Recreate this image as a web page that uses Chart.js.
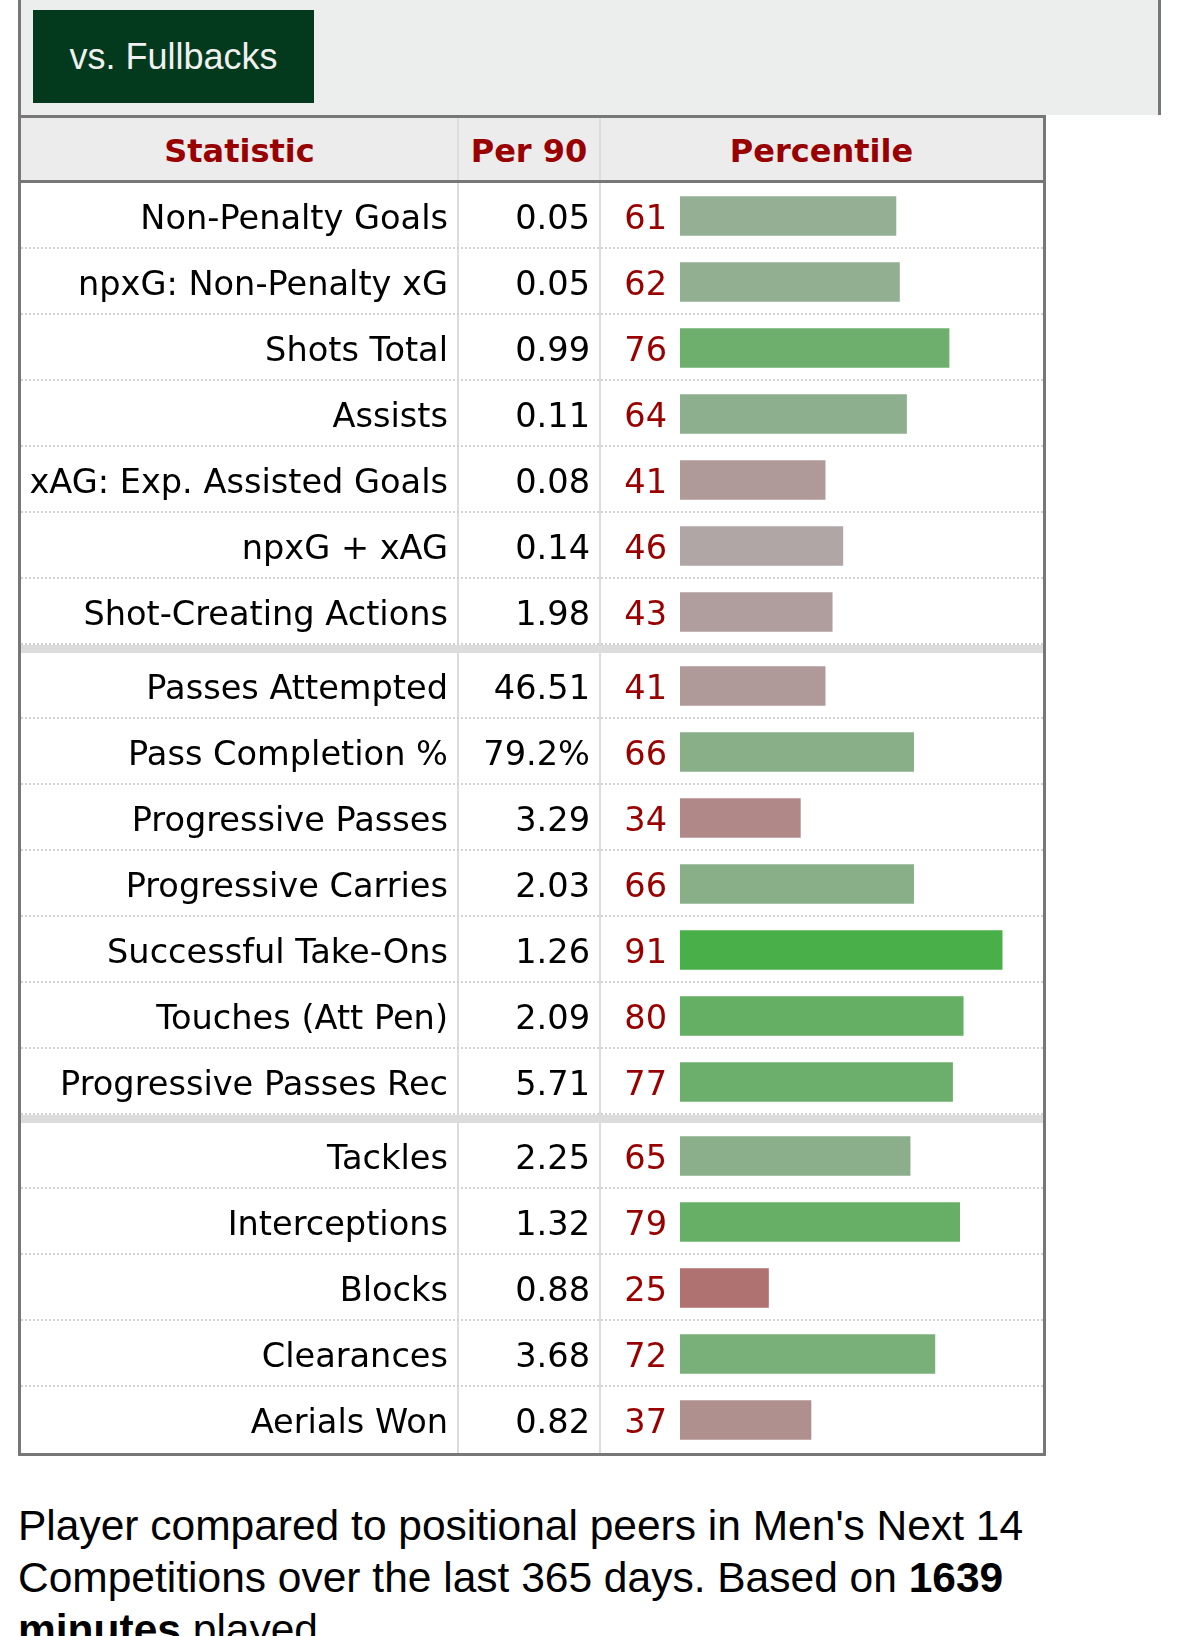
<!DOCTYPE html>
<html>
<head>
<meta charset="utf-8">
<script src="https://cdn.jsdelivr.net/npm/chart.js@4/dist/chart.umd.min.js"></script>
<style>
  html, body { margin: 0; padding: 0; background: #fff; width: 1179px; height: 1636px; overflow: hidden; }
  #panel { position: absolute; left: 18px; top: 0; width: 1143px; height: 115px; box-sizing: border-box;
           background: #eceeed; border-left: 3px solid #777; border-right: 3px solid #777; }
  #btn { position: absolute; left: 33px; top: 10px; width: 281px; height: 93px; background: #033a1d;
         color: #f0f0f0; font: 36px "Liberation Sans", Arial, sans-serif; line-height: 93px; text-align: center; }
  #table { position: absolute; left: 18px; top: 115px; width: 1028px; height: 1341px; box-sizing: border-box;
           border: 3px solid #777; background: #fff; }
  #head { position: absolute; left: 21px; top: 118px; width: 1022px; height: 62px; background: #ececec;
          border-bottom: 3px solid #777; overflow: hidden; }
  .hsep { position: absolute; top: 0; width: 2px; height: 62px; background: #dcdcdc; }
  .hcell { position: absolute; top: 2px; height: 62px; text-align: center;
           font: bold 32px "DejaVu Sans", Verdana, sans-serif; line-height: 62px; color: #990000; }
  #wrap { position: absolute; left: 21px; top: 183px; width: 1022px; height: 1270px; }
  #note { position: absolute; left: 18px; top: 1500px; width: 1150px; font: 42.5px "Liberation Sans", Arial, sans-serif;
          line-height: 52px; color: #000; white-space: nowrap; }
</style>
</head>
<body>
<div id="panel"></div>
<div id="btn">vs. Fullbacks</div>
<div id="table"></div>
<div id="head">
  <div class="hsep" style="left:436px"></div>
  <div class="hsep" style="left:578px"></div>
  <div class="hcell" style="left:0;width:437px">Statistic</div>
  <div class="hcell" style="left:437px;width:142px">Per 90</div>
  <div class="hcell" style="left:579px;width:443px">Percentile</div>
</div>
<div id="wrap"><canvas id="c"></canvas></div>
<div id="note">Player compared to positional peers in Men's Next 14<br>Competitions over the last 365 days. Based on <b>1639</b><br><b>minutes</b> played.</div>

<script>
// ---- data ----
const stats = [
  "Non-Penalty Goals", "npxG: Non-Penalty xG", "Shots Total", "Assists",
  "xAG: Exp. Assisted Goals", "npxG + xAG", "Shot-Creating Actions",
  "Passes Attempted", "Pass Completion %", "Progressive Passes", "Progressive Carries",
  "Successful Take-Ons", "Touches (Att Pen)", "Progressive Passes Rec",
  "Tackles", "Interceptions", "Blocks", "Clearances", "Aerials Won"
];
const per90 = [
  "0.05", "0.05", "0.99", "0.11", "0.08", "0.14", "1.98",
  "46.51", "79.2%", "3.29", "2.03", "1.26", "2.09", "5.71",
  "2.25", "1.32", "0.88", "3.68", "0.82"
];
const percentiles = [
  61, 62, 76, 64, 41, 46, 43,
  41, 66, 34, 66, 91, 80, 77,
  65, 79, 25, 72, 37
];
const groupSizes = [7, 7, 5];

// ---- layout (row units) ----
const BAND = 8 / 66;
const rowStart = [];
const groupEnds = [];
let cursor = 0;
groupSizes.forEach((n, g) => {
  if (g > 0) cursor += BAND;
  for (let k = 0; k < n; k++) { rowStart.push(cursor); cursor += 1; }
  groupEnds.push(cursor);
});
const totalRows = cursor;

function colorFor(p) {
  const t = Math.abs(p - 50) / 50;
  const c = Math.round(176 - 126 * t);
  return p >= 50 ? `rgb(${c},175,${c})` : `rgb(176,${c},${c})`;
}

const tablePlugin = {
  id: 'tableText',
  beforeDatasetsDraw(chart) {
    const ctx = chart.ctx;
    const ys = chart.scales.y;
    const W = chart.width, H = chart.height;
    ctx.save();
    // group bands
    ctx.fillStyle = '#dcdcdc';
    groupEnds.slice(0, -1).forEach(e => {
      const y0 = ys.getPixelForValue(e), y1 = ys.getPixelForValue(e + BAND);
      ctx.fillRect(0, y0, W, y1 - y0);
    });
    // column separators
    ctx.fillStyle = '#dcdcdc';
    ctx.fillRect(436, 0, 2, H);
    ctx.fillRect(578, 0, 2, H);
    // dotted row separators
    ctx.strokeStyle = '#d2d2d2';
    ctx.lineWidth = 2;
    ctx.setLineDash([2, 2]);
    stats.forEach((s, i) => {
      if (i === stats.length - 1) return;
      const yy = ys.getPixelForValue(rowStart[i] + 1) - 1;
      ctx.beginPath(); ctx.moveTo(0, yy); ctx.lineTo(W, yy); ctx.stroke();
    });
    ctx.setLineDash([]);
    // text
    ctx.font = '33.6px "DejaVu Sans", Verdana, sans-serif';
    ctx.textAlign = 'right';
    ctx.textBaseline = 'alphabetic';
    stats.forEach((s, i) => {
      const yc = ys.getPixelForValue(rowStart[i] + 0.5) + 13;
      ctx.fillStyle = '#000';
      ctx.fillText(s, 427, yc);
      ctx.fillText(per90[i], 569, yc);
      ctx.fillStyle = '#990000';
      ctx.fillText(String(percentiles[i]), 646, yc);
    });
    ctx.restore();
  }
};

new Chart(document.getElementById('c'), {
  type: 'bar',
  data: {
    datasets: [{
      data: percentiles.map((p, i) => ({ x: p, y: rowStart[i] + 0.5 })),
      backgroundColor: ctx => colorFor(ctx.raw ? ctx.raw.x : 50),
      borderWidth: 0,
      barThickness: 39
    }]
  },
  options: {
    indexAxis: 'y',
    responsive: true,
    maintainAspectRatio: false,
    animation: false,
    events: [],
    layout: { padding: { left: 659, right: 9, top: 0, bottom: 0 } },
    plugins: { legend: { display: false }, tooltip: { enabled: false } },
    scales: {
      x: { type: 'linear', min: 0, max: 100, display: false },
      y: { type: 'linear', min: 0, max: totalRows, reverse: true, offset: false, display: false }
    }
  },
  plugins: [tablePlugin]
});
</script>
</body>
</html>
